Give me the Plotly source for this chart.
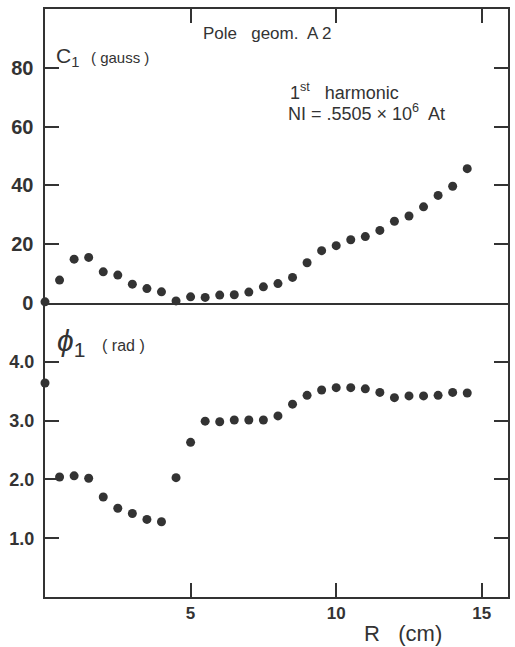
import plotly.graph_objects as go
from plotly.subplots import make_subplots

R_cm = [0, 0.5, 1.0, 1.5, 2.0, 2.5, 3.0, 3.5, 4.0, 4.5, 5.0, 5.5, 6.0, 6.5, 7.0,
        7.5, 8.0, 8.5, 9.0, 9.5, 10.0, 10.5, 11.0, 11.5, 12.0, 12.5, 13.0, 13.5, 14.0, 14.5]
C1_gauss = [0.4, 7.8, 14.9, 15.5, 10.6, 9.5, 6.4, 4.9, 3.8, 0.7, 2.1, 1.9, 2.7, 2.8, 3.7,
            5.5, 6.6, 8.7, 13.7, 17.8, 19.5, 21.5, 22.6, 24.7, 27.8, 29.6, 32.7, 36.6, 39.7, 45.7]
phi1_rad = [3.64, 2.04, 2.06, 2.02, 1.70, 1.51, 1.42, 1.32, 1.28, 2.03, 2.63, 2.99, 2.98, 3.01, 3.01,
            3.01, 3.08, 3.28, 3.43, 3.52, 3.56, 3.56, 3.54, 3.48, 3.39, 3.42, 3.42, 3.43, 3.48, 3.47]

x_ticks = [5, 10, 15]
c1_ticks = [0, 20, 40, 60, 80]
c1_tick_labels = ["0 ", "20 ", "40 ", "60 ", "80 "]
phi_ticks = [1, 2, 3, 4]
phi_tick_labels = ["1.0 ", "2.0 ", "3.0 ", "4.0 "]

INK = "#333333"
FONT = "Liberation Sans, Arial, Helvetica, sans-serif"
W, H = 515, 647
ML, MR, MT, MB = 45, 5, 9, 50
PLOT_W = W - ML - MR

fig = make_subplots(rows=2, cols=1, shared_xaxes=False, vertical_spacing=0)

fig.add_trace(go.Scatter(x=R_cm, y=C1_gauss, mode="markers",
                         marker=dict(size=9, color=INK), cliponaxis=False,
                         showlegend=False), row=1, col=1)
fig.add_trace(go.Scatter(x=R_cm, y=phi1_rad, mode="markers",
                         marker=dict(size=9, color=INK), cliponaxis=False,
                         showlegend=False), row=2, col=1)

axis_common = dict(showline=True, linecolor=INK, linewidth=2, showgrid=False,
                   zeroline=False, ticks="inside", tickcolor=INK, tickwidth=2,
                   ticklen=14, layer="above traces")

fig.update_xaxes(range=[0, 15.9], tickvals=x_ticks, side="top", mirror=True,
                 showticklabels=False, **axis_common, row=1, col=1)
fig.update_xaxes(range=[0, 15.9], tickvals=x_ticks, side="bottom", mirror=False,
                 showticklabels=True,
                 tickfont=dict(family=FONT, size=17, color=INK, weight="bold"),
                 **axis_common, row=2, col=1)
fig.update_yaxes(range=[0, 100], tickvals=c1_ticks, ticktext=c1_tick_labels,
                 mirror="ticks",
                 tickfont=dict(family=FONT, size=20, color=INK, weight="bold"),
                 **axis_common, row=1, col=1)
fig.update_yaxes(range=[0, 5], tickvals=phi_ticks, ticktext=phi_tick_labels,
                 mirror="ticks",
                 tickfont=dict(family=FONT, size=18, color=INK, weight="bold"),
                 **axis_common, row=2, col=1)

fig.update_layout(yaxis=dict(domain=[0.5, 1.0]), yaxis2=dict(domain=[0.0, 0.5]))


def px_x(px):
    return (px - ML) / PLOT_W


def px_y(py):
    return (H - MB - py) / (H - MT - MB)


annots = [
    ("C<sub>1</sub>  <span style='font-size:15px'>( gauss )</span>", 54, 57, 21, "left"),
    ("Pole   geom.  A 2", 202, 33, 17, "left"),
    ("1<sup>st</sup>   harmonic", 289, 91, 18, "left"),
    ("NI = .5505 × 10<sup>6</sup>  At", 287, 112, 18, "left"),
    ("<i>ϕ</i><sub>1</sub>  <span style='font-size:16px'>( rad )</span>", 55, 342, 30, "left"),
    ("R   (cm)", 405, 633, 22, "center"),
]
for text, x, y, size, anchor in annots:
    fig.add_annotation(text=text, x=px_x(x), y=px_y(y), xref="paper", yref="paper",
                       xanchor=anchor, yanchor="middle", showarrow=False,
                       font=dict(family=FONT, size=size, color=INK))

fig.update_layout(width=W, height=H, margin=dict(l=ML, r=MR, t=MT, b=MB),
                  paper_bgcolor="white", plot_bgcolor="white",
                  font=dict(family=FONT, color=INK))

fig.write_html("out.html")
